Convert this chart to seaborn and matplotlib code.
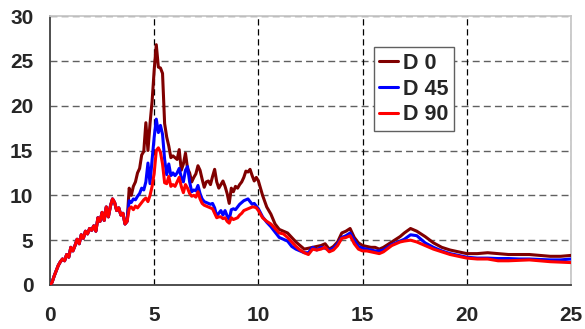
import numpy as np
import pandas as pd
import matplotlib
matplotlib.use("Agg")
import matplotlib.pyplot as plt
import seaborn as sns

# ---------------- data ----------------
x_common = [0.0, 0.1, 0.2, 0.3, 0.4, 0.5, 0.6, 0.7, 0.8, 0.9, 1.0, 1.1, 1.2, 1.3, 1.4,
            1.5, 1.6, 1.7, 1.8, 1.9, 2.0, 2.1, 2.2, 2.3, 2.4, 2.5, 2.6, 2.7, 2.8, 2.9,
            3.0, 3.1, 3.2, 3.3, 3.4, 3.5, 3.6, 3.7]
y_common = [0.0, 0.3, 1.0, 1.6, 2.2, 2.6, 2.9, 2.7, 3.4, 3.1, 4.2, 3.8, 4.4, 5.1, 4.6,
            5.6, 5.2, 6.0, 5.7, 6.3, 6.1, 6.6, 6.0, 7.5, 7.1, 8.1, 7.2, 8.7, 7.6, 8.8,
            9.6, 9.2, 8.3, 8.6, 7.8, 8.0, 6.8, 7.1]

x_rest = [3.8, 3.9, 4.0, 4.1, 4.2, 4.3, 4.4, 4.5, 4.6, 4.7, 4.8, 4.9, 5.0, 5.1, 5.2,
          5.3, 5.4, 5.5, 5.6, 5.7, 5.8, 5.9, 6.0, 6.1, 6.2, 6.3, 6.4, 6.5, 6.6, 6.7,
          6.8, 6.9, 7.0, 7.1, 7.2, 7.3, 7.4, 7.5, 7.6, 7.7, 7.8, 7.9, 8.0, 8.1, 8.2,
          8.3, 8.4, 8.5, 8.6, 8.7, 8.8, 8.9, 9.0, 9.1, 9.2, 9.3, 9.4, 9.5, 9.6, 9.7,
          9.8, 9.9, 10.0, 10.2, 10.4, 10.6, 10.8, 11.0, 11.2, 11.4, 11.6, 11.8, 12.0,
          12.2, 12.4, 12.6, 12.8, 13.0, 13.2, 13.4, 13.6, 13.8, 14.0, 14.2, 14.4, 14.6,
          14.8, 15.0, 15.2, 15.4, 15.6, 15.8, 16.0, 16.4, 16.8, 17.0, 17.3, 17.6, 18.0,
          18.4, 18.8, 19.2, 19.6, 20.0, 20.5, 21.0, 21.5, 22.0, 22.5, 23.0, 23.5, 24.0,
          24.5, 25.0]

d0_rest = [10.8, 10.0, 11.0, 11.5, 12.5, 13.0, 14.5, 14.9, 18.1, 15.0, 18.0, 20.5, 24.0, 26.8, 24.3,
           24.2, 23.6, 18.0, 16.5, 15.5, 14.2, 14.4, 14.2, 14.0, 15.1, 12.8, 13.5, 14.7, 13.0, 12.5,
           11.5, 12.0, 12.4, 13.3, 12.8, 11.8, 10.9, 11.5, 11.6, 11.2, 12.1, 12.9, 11.5, 10.8, 11.2,
           11.6, 11.0, 10.2, 9.1, 10.8, 10.4, 11.0, 10.8, 11.2, 11.5, 12.0, 12.7, 12.6, 12.9, 12.2,
           11.6, 12.0, 11.6, 10.0, 8.7, 7.9, 6.8, 6.2, 6.0, 5.8, 5.3, 4.8, 4.4,
           4.0, 4.1, 4.2, 4.3, 4.4, 4.6, 4.0, 4.3, 4.8, 5.8, 6.0, 6.3, 5.3,
           4.7, 4.4, 4.3, 4.2, 4.2, 4.0, 4.2, 4.8, 5.4, 5.8, 6.3, 6.0, 5.4,
           4.7, 4.2, 3.9, 3.7, 3.5, 3.5, 3.6, 3.5, 3.4, 3.4, 3.4, 3.3, 3.2,
           3.2, 3.3]

d45_rest = [9.4, 9.2, 9.6, 9.5, 9.9, 10.2, 10.8, 10.6, 11.5, 13.6, 11.3, 14.0, 16.5, 18.5, 17.0,
            17.8, 16.8, 14.0, 12.3, 13.5, 12.2, 12.5, 12.2, 12.5, 13.0, 12.0, 11.5, 12.8, 13.2, 11.5,
            10.4, 10.6, 10.5, 11.1, 10.2, 9.6, 9.3, 9.2, 9.1, 9.0, 9.1, 8.6, 7.7, 8.0, 8.3,
            7.8, 8.3, 7.7, 7.3, 8.4, 8.5, 8.4, 8.7, 9.0, 9.2, 9.4, 9.5, 9.6, 9.3, 9.0,
            9.1, 8.8, 8.5, 7.6, 7.0, 6.5, 5.9, 5.3, 5.1, 4.9, 4.3, 4.0, 3.8,
            3.6, 3.6, 4.2, 3.9, 4.2, 4.1, 3.9, 4.1, 4.6, 5.3, 5.5, 5.8, 5.0,
            4.3, 4.1, 4.0, 3.9, 3.8, 3.8, 3.9, 4.5, 4.9, 5.1, 5.6, 5.5, 4.7,
            4.2, 3.8, 3.5, 3.3, 3.1, 3.0, 3.0, 2.95, 2.95, 2.9, 2.9, 2.85, 2.8,
            2.8, 2.9]

d90_rest = [8.5, 8.7, 8.4, 8.8, 8.6, 8.9, 9.2, 9.5, 9.7, 9.3, 10.0, 11.0, 12.5, 15.0, 15.3,
            14.8, 13.5, 11.4, 11.3, 12.1, 11.0, 11.2, 11.0, 11.5, 12.0, 11.0, 10.3, 11.2, 10.8, 10.2,
            9.9, 10.0, 9.8, 10.4, 9.6, 9.1, 8.9, 8.8, 8.7, 8.6, 8.5, 8.0, 7.5, 7.6, 7.6,
            7.4, 7.5, 7.1, 6.9, 7.5, 7.3, 7.4, 7.5, 7.8, 8.0, 8.3, 8.4, 8.5, 8.6, 8.7,
            8.7, 8.6, 8.3, 7.5, 7.1, 6.8, 6.3, 5.8, 5.7, 5.3, 4.8, 4.3, 3.9,
            3.6, 3.4, 4.0, 3.9, 4.0, 4.2, 3.7, 3.9, 4.4, 5.2, 5.3, 5.5, 4.6,
            4.0, 3.8, 3.8, 3.7, 3.6, 3.5, 3.7, 4.4, 4.8, 4.9, 5.0, 4.8, 4.4,
            4.0, 3.7, 3.4, 3.2, 3.0, 2.9, 2.9, 2.7, 2.7, 2.75, 2.8, 2.7, 2.6,
            2.55, 2.5]

series_names = ["D 0", "D 45", "D 90"]
series_colors = ["#800000", "#0000FF", "#FF0000"]
x_ticks = [0, 5, 10, 15, 20, 25]
y_ticks = [0, 5, 10, 15, 20, 25, 30]

# ---------------- build table ----------------
x_all = x_common + x_rest
frames = []
for name, rest in zip(series_names, [d0_rest, d45_rest, d90_rest]):
    frames.append(pd.DataFrame({"x": x_all, "y": y_common + rest, "series": name}))
df = pd.concat(frames, ignore_index=True)

# ---------------- plot ----------------
sns.set_style("white")
plt.rcParams["font.family"] = ["Liberation Sans", "DejaVu Sans"]

fig = plt.figure(figsize=(5.85, 3.29), dpi=100)
ax = fig.add_axes([50 / 585, 44 / 329, 521 / 585, 269 / 329])

# gridlines
for yv in y_ticks[1:]:
    ax.axhline(yv, color="#606060", lw=1.0, ls=(0, (5, 3)), zorder=1)
for xv in x_ticks[1:-1]:
    ax.axvline(xv, color="black", lw=0.9, ls=(0, (5, 3)), zorder=1)
ax.axvline(25, color="#707070", lw=1.0, ls=(0, (5, 3)), zorder=1)

sns.lineplot(data=df, x="x", y="y", hue="series", hue_order=series_names,
             palette=series_colors, estimator=None, sort=False, lw=2.2, ax=ax, zorder=3)

ax.set_xlim(0, 25)
ax.set_ylim(0, 30)
ax.set_xticks(x_ticks)
ax.set_yticks(y_ticks)
ax.set_xlabel("")
ax.set_ylabel("")

for s in ["left", "bottom"]:
    ax.spines[s].set_color("#404040")
    ax.spines[s].set_linewidth(1.3)
for s in ["top", "right"]:
    ax.spines[s].set_color("#c8c8c8")
    ax.spines[s].set_linewidth(1.3)

ax.tick_params(axis="both", direction="out", length=6, width=1.2, color="#606060",
               labelsize=15)
ax.tick_params(axis="x", pad=9)
ax.tick_params(axis="y", pad=6)
for lab in ax.get_xticklabels() + ax.get_yticklabels():
    lab.set_fontweight("bold")

leg = ax.legend(loc="upper left", bbox_to_anchor=(0.622, 0.883), frameon=True,
                fancybox=False, edgecolor="#606060", framealpha=1,
                prop={"weight": "bold", "size": 15.5}, handlelength=0.85,
                handletextpad=0.25, labelspacing=0.22, borderpad=0.25,
                borderaxespad=0)
leg.get_frame().set_linewidth(1.0)
for h in leg.get_lines():
    h.set_linewidth(2.2)

fig.savefig("out.png", dpi=100)
